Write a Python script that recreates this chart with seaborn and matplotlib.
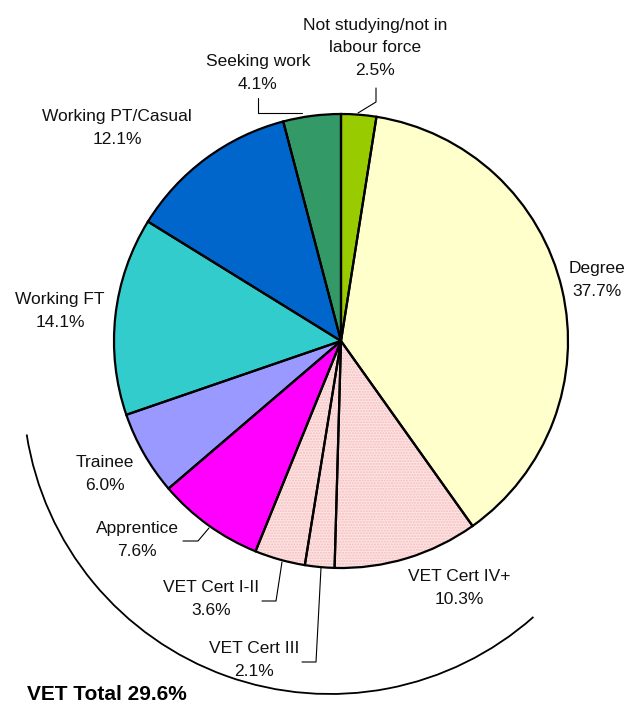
import matplotlib
matplotlib.use("Agg")
import matplotlib.pyplot as plt
import seaborn as sns
import numpy as np
from matplotlib.patches import Arc

# ---- dados ----
categorias = ["Not studying/not in\nlabour force", "Degree", "VET Cert IV+", "VET Cert III",
              "VET Cert I-II", "Apprentice", "Trainee", "Working FT",
              "Working PT/Casual", "Seeking work"]
valores = [2.5, 37.7, 10.3, 2.1, 3.6, 7.6, 6.0, 14.1, 12.1, 4.1]
cores = ["#99CC00", "#FFFFCC", "#FFE3E3", "#FFE3E3", "#FFE3E3", "#FF00FF",
         "#9999FF", "#33CCCC", "#0066CC", "#339966"]
hachurado = [False, False, True, True, True, False, False, False, False, False]
total_vet = "VET Total 29.6%"

sns.set_theme(style="white")
plt.rcParams["font.family"] = ["Liberation Sans", "DejaVu Sans"]

fig = plt.figure(figsize=(6.28, 7.07), dpi=100)
ax = fig.add_axes([0, 0, 1, 1])
PX = 227.0  # pixels por unidade
cx, cy = 341, 341
def d(px, py):
    return (px - cx) / PX, (cy - py) / PX

# preenchimento (com hachura nas fatias VET)
fatias, _ = ax.pie(valores, colors=cores, startangle=90, counterclock=False,
                   radius=1.0, wedgeprops=dict(linewidth=0))
for w, h in zip(fatias, hachurado):
    if h:
        w.set_hatch("......")
        w.set_edgecolor("#F2BFBF")
        w.set_linewidth(0)
# contornos
ax.pie(valores, colors=["none"] * len(valores), startangle=90, counterclock=False,
       radius=1.0, wedgeprops=dict(linewidth=1.6, edgecolor="black", facecolor="none"))
ax.set_xlim(-cx / PX, (628 - cx) / PX)
ax.set_ylim((cy - 707) / PX, cy / PX)
ax.set_aspect("auto")
ax.axis("off")

# rótulos
rotulos = [
    (375, 48), (597, 280), (459, 588), (254, 660), (211, 599),
    (137, 540), (105, 474), (60, 311), (117, 128), (258, 73),
]
for cat, val, (px, py) in zip(categorias, valores, rotulos):
    x, y = d(px, py)
    ax.text(x, y, f"{cat}\n{val:.1f}%", ha="center", va="center",
            fontsize=12.5, linespacing=1.6, color="#111111")

# linhas de chamada
chamadas = [
    [(376, 88), (376, 102), (358, 113)],
    [(258, 98), (258, 113), (302, 113)],
    [(183, 541), (198, 541), (209, 528)],
    [(262, 601), (276, 601), (282, 562)],
    [(302, 662), (316, 662), (321, 568)],
]
for pts in chamadas:
    xs, ys = zip(*[d(p, q) for p, q in pts])
    ax.plot(xs, ys, color="black", lw=0.8)

# arco do total VET
acx, acy = d(330, 387)
r = 307 / PX
ax.add_patch(Arc((acx, acy), 2 * r, 2 * r, theta1=188.9, theta2=311.5,
                 color="black", lw=1.3))
x, y = d(27, 694)
ax.text(x, y, total_vet, ha="left", va="center", fontsize=15, fontweight="bold",
        color="black")

fig.savefig("out.png", dpi=100)
